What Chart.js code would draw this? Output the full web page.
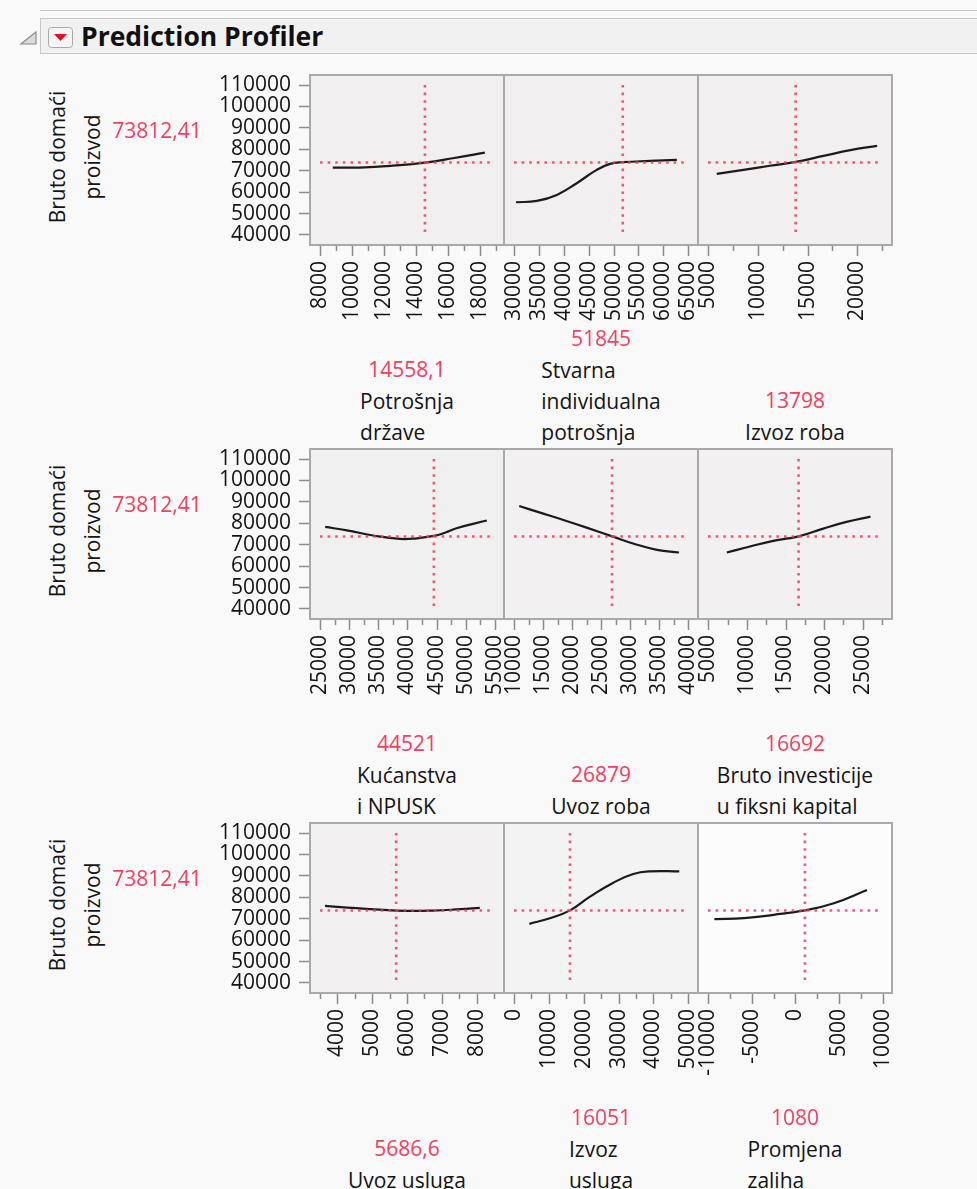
<!DOCTYPE html>
<html>
<head>
<meta charset="utf-8">
<title>Prediction Profiler</title>
<script src="https://cdn.jsdelivr.net/npm/chart.js@4.4.1/dist/chart.umd.min.js"></script>
<style>
  html, body { margin: 0; padding: 0; }
  body {
    width: 977px; height: 1189px; overflow: hidden; position: relative;
    background: #f9f9f9; font-family: "Open Sans", "Noto Sans", sans-serif; color: #141414;
  }
  .topline { position: absolute; left: 40px; top: 10px; width: 940px; height: 0; border-top: 1px solid #c9c9c9; }
  .header {
    position: absolute; left: 40px; top: 18px; width: 945px; height: 36px;
    background: #f1f1f1; border: 1px solid #c6c6c6; box-sizing: border-box;
  }
  .title {
    position: absolute; left: 81px; top: 18px; font-size: 26.5px; font-weight: 700;
    line-height: 36px; color: #101010; white-space: nowrap;
  }
  svg.icons { position: absolute; left: 0; top: 0; }
  canvas { position: absolute; }
  .lbl { position: absolute; font-size: 21px; white-space: nowrap; }
  .red { color: #f2405f; }
  .ytitle {
    position: absolute; font-size: 21px; line-height: 35px; text-align: center;
    white-space: nowrap; transform: translate(-50%, -50%) rotate(-90deg);
  }
  .names { position: absolute; font-size: 21px; line-height: 31px; text-align: left; white-space: nowrap; transform: translateX(-50%); }
</style>
</head>
<body>
<div class="topline"></div>
<div class="header"></div>
<svg class="icons" width="80" height="60">
  <polygon points="36,32 36,44 21,44" fill="#dcdcdc" stroke="#8a8a8a" stroke-width="1.2"/>
  <rect x="48.5" y="27.5" width="24" height="20" rx="3" ry="3" fill="#f5f5f5" stroke="#a9a9a9"/>
  <polygon points="54,34 67,34 60.5,41" fill="#e3101e"/>
</svg>
<div class="title">Prediction Profiler</div>

<script>
// ----------------- Data ----------------
const responseTitle = ["Bruto domaći", "proizvod"];
const responseValue = 73812.41;
const responseLabel = "73812,41";
const yTickValues = [40000, 50000, 60000, 70000, 80000, 90000, 100000, 110000];
const yAxisMin = 35333;
const yAxisMax = 114667;

const factorNames = [
  ["Potrošnja", "države"],
  ["Stvarna", "individualna", "potrošnja"],
  ["Izvoz roba"],
  ["Kućanstva", "i NPUSK"],
  ["Uvoz roba"],
  ["Bruto investicije", "u fiksni kapital"],
  ["Uvoz usluga"],
  ["Izvoz", "usluga"],
  ["Promjena", "zaliha"]
];
const factorValues = [14558.1, 51845, 13798, 44521, 26879, 16692, 5686.6, 16051, 1080];
const factorLabels = ["14558,1", "51845", "13798", "44521", "26879", "16692", "5686,6", "16051", "1080"];

const xAxisMin = [7375, 27990, 3960, 23290, 8280, 3670, 3210, -2870, -11180];
const xAxisMax = [19500, 66950, 23500, 56540, 41670, 28790, 8785, 52780, 11070];

const xMajorTicks = [
  [8000, 10000, 12000, 14000, 16000, 18000],
  [30000, 35000, 40000, 45000, 50000, 55000, 60000, 65000],
  [5000, 10000, 15000, 20000],
  [25000, 30000, 35000, 40000, 45000, 50000, 55000],
  [10000, 15000, 20000, 25000, 30000, 35000, 40000],
  [5000, 10000, 15000, 20000, 25000],
  [4000, 5000, 6000, 7000, 8000],
  [0, 10000, 20000, 30000, 40000, 50000],
  [-10000, -5000, 0, 5000, 10000]
];
const xMinorTicks = [
  [9000, 11000, 13000, 15000, 17000, 19000],
  [],
  [7500, 12500, 17500, 22500],
  [27500, 32500, 37500, 42500, 47500, 52500],
  [12500, 17500, 22500, 27500, 32500, 37500],
  [7500, 12500, 17500, 22500, 27500],
  [3500, 4500, 5500, 6500, 7500, 8500],
  [5000, 15000, 25000, 35000, 45000],
  [-7500, -2500, 2500, 7500]
];

// profile traces
const profileX = [
  [8800, 10500, 12400, 14560, 16300, 18300],
  [30400, 34600, 38600, 42600, 46600, 49300, 51900, 57300, 62700],
  [5850, 8530, 11200, 13800, 16600, 19300, 22000],
  [25900, 29600, 34100, 38700, 41600, 44500, 46500, 48400, 53600],
  [10900, 14500, 18500, 22500, 26900, 30500, 34600, 38400],
  [7400, 10400, 13400, 16700, 19900, 22900, 26000],
  [3640, 4550, 5700, 6750, 7520, 8090],
  [4400, 10300, 16060, 21800, 28500, 34200, 39000, 47400],
  [-9300, -5900, -2500, 1070, 4400, 8200]
];
const profileY = [
  [71480, 71480, 72260, 73810, 75830, 78480],
  [55290, 55920, 58720, 64160, 70390, 73190, 73970, 74590, 75060],
  [68520, 70390, 72300, 74100, 76900, 79600, 81590],
  [78300, 76700, 74300, 72700, 73000, 74100, 75700, 77700, 81300],
  [88060, 84960, 81560, 77990, 73900, 70560, 67620, 66380],
  [66380, 69170, 71800, 73900, 77530, 80630, 83100],
  [75980, 74900, 73810, 73810, 74430, 75050],
  [67610, 70250, 73900, 80320, 86830, 90860, 92100, 92100],
  [69780, 70250, 71800, 73900, 77220, 83420]
];

// ----------------- Layout ----------------
const colLeft = [310, 504, 698];
const rowTop = [75, 449, 823];
const frameW = 194;
const frameH = 170;
const panelBg = ["#f1eff0", "#f1eff0", "#f1eff0", "#f0f0f0", "#f2f0f1", "#f2f0f1", "#f2f0f1", "#f3f3f3", "#fcfcfc"];
const INK = "#141414";
const FONT = { family: '"Open Sans", "Noto Sans", sans-serif', size: 21 };

// background, crosshair, frame and x tick marks for one panel
const profilerPlugin = {
  id: "profiler",
  beforeDraw(chart, args, opts) {
    const ca = chart.chartArea;
    const ctx = chart.ctx;
    ctx.save();
    ctx.fillStyle = opts.bg;
    ctx.fillRect(ca.left, ca.top, ca.right - ca.left, ca.bottom - ca.top);
    ctx.restore();
  },
  afterDatasetsDraw(chart, args, opts) {
    const ca = chart.chartArea;
    const ctx = chart.ctx;
    const xs = chart.scales.x;
    const ys = chart.scales.y;
    const px = xs.getPixelForValue(opts.current);
    const py = ys.getPixelForValue(responseValue);

    ctx.save();
    ctx.strokeStyle = "rgba(240, 60, 95, 0.85)";
    ctx.lineWidth = 2.6;
    ctx.setLineDash([2.6, 5]);
    ctx.beginPath();
    ctx.moveTo(ca.left + 10, py);
    ctx.lineTo(ca.right - 10, py);
    ctx.moveTo(px, ca.top + 10);
    ctx.lineTo(px, ca.bottom - 10);
    ctx.stroke();
    ctx.restore();

    ctx.save();
    ctx.strokeStyle = "#a9a9a9";
    ctx.lineWidth = 2;
    ctx.strokeRect(ca.left, ca.top, ca.right - ca.left, ca.bottom - ca.top);

    ctx.strokeStyle = "#8c8c8c";
    ctx.lineWidth = 1.5;
    ctx.beginPath();
    opts.major.forEach((v) => {
      const x = Math.round(xs.getPixelForValue(v)) + 0.5;
      ctx.moveTo(x, ca.bottom + 1);
      ctx.lineTo(x, ca.bottom + 11);
    });
    opts.minor.forEach((v) => {
      const x = Math.round(xs.getPixelForValue(v)) + 0.5;
      ctx.moveTo(x, ca.bottom + 1);
      ctx.lineTo(x, ca.bottom + 6);
    });
    ctx.stroke();
    ctx.restore();
  }
};

function zeroPadding(scale) {
  scale.paddingLeft = 0;
  scale.paddingRight = 0;
  scale.paddingTop = 0;
  scale.paddingBottom = 0;
}

function addDiv(cls, html, style) {
  const d = document.createElement("div");
  d.className = cls;
  d.innerHTML = html;
  Object.assign(d.style, style);
  document.body.appendChild(d);
  return d;
}

// ----------------- Panels ----------------
factorNames.forEach((names, i) => {
  const c = i % 3;
  const r = Math.floor(i / 3);
  const leftExtra = c === 0 ? 130 : 16;
  const rightExtra = 16;
  const topExtra = 4;
  const xAxisH = 90;

  const canvas = document.createElement("canvas");
  canvas.width = leftExtra + frameW + rightExtra;
  canvas.height = topExtra + frameH + xAxisH;
  canvas.style.left = (colLeft[c] - leftExtra) + "px";
  canvas.style.top = (rowTop[r] - topExtra) + "px";
  canvas.style.width = canvas.width + "px";
  canvas.style.height = canvas.height + "px";
  document.body.appendChild(canvas);

  new Chart(canvas.getContext("2d"), {
    type: "line",
    data: {
      datasets: [{
        data: profileX[i].map((x, k) => ({ x: x, y: profileY[i][k] })),
        borderColor: "#1b1b1b",
        borderWidth: 2.2,
        pointRadius: 0,
        fill: false,
        tension: 0.45
      }]
    },
    options: {
      responsive: false,
      animation: false,
      devicePixelRatio: 1,
      layout: { padding: { left: c === 0 ? 0 : leftExtra, right: rightExtra, top: topExtra, bottom: 0 } },
      plugins: {
        legend: { display: false },
        tooltip: { enabled: false },
        profiler: { bg: panelBg[i], current: factorValues[i], major: xMajorTicks[i], minor: xMinorTicks[i] }
      },
      scales: {
        x: {
          type: "linear",
          min: xAxisMin[i],
          max: xAxisMax[i],
          afterBuildTicks: (s) => { s.ticks = xMajorTicks[i].map((v) => ({ value: v })); },
          afterFit: (s) => { s.height = xAxisH; zeroPadding(s); },
          grid: { drawOnChartArea: false, drawTicks: false },
          border: { display: false },
          ticks: {
            autoSkip: false,
            minRotation: 90,
            maxRotation: 90,
            padding: 16,
            color: INK,
            font: FONT,
            callback: (v) => String(v)
          }
        },
        y: {
          display: c === 0,
          min: yAxisMin,
          max: yAxisMax,
          afterBuildTicks: (s) => { s.ticks = yTickValues.map((v) => ({ value: v })); },
          afterFit: (s) => { if (c === 0) s.width = leftExtra; zeroPadding(s); },
          grid: { drawOnChartArea: false, tickLength: 11, tickColor: "#8c8c8c", tickWidth: 1.5 },
          border: { display: false },
          ticks: { autoSkip: false, padding: 8, color: INK, font: FONT, callback: (v) => String(v) }
        }
      }
    },
    plugins: [profilerPlugin]
  });

  // factor labels under the column
  const cx = colLeft[c] + frameW / 2;
  const lastCenter = rowTop[r] + frameH + 187;
  const lineH = 31;
  const blockTop = lastCenter + lineH / 2 - names.length * lineH;
  addDiv("names", names.join("<br>"), { left: cx + "px", top: blockTop + "px" });
  const redCenter = lastCenter - (names.length - 1) * lineH - 32;
  addDiv("lbl red", factorLabels[i], {
    left: cx + "px", top: redCenter + "px", transform: "translate(-50%, -50%)", lineHeight: "30px"
  });
});

// response title and current value for each row
rowTop.forEach((top) => {
  addDiv("ytitle", responseTitle.join("<br>"), { left: "74.5px", top: (top + frameH / 2 - 3) + "px" });
  addDiv("lbl red", responseLabel, {
    left: "157px", top: (top + 55) + "px", transform: "translate(-50%, -50%)", lineHeight: "30px"
  });
});
</script>
</body>
</html>
